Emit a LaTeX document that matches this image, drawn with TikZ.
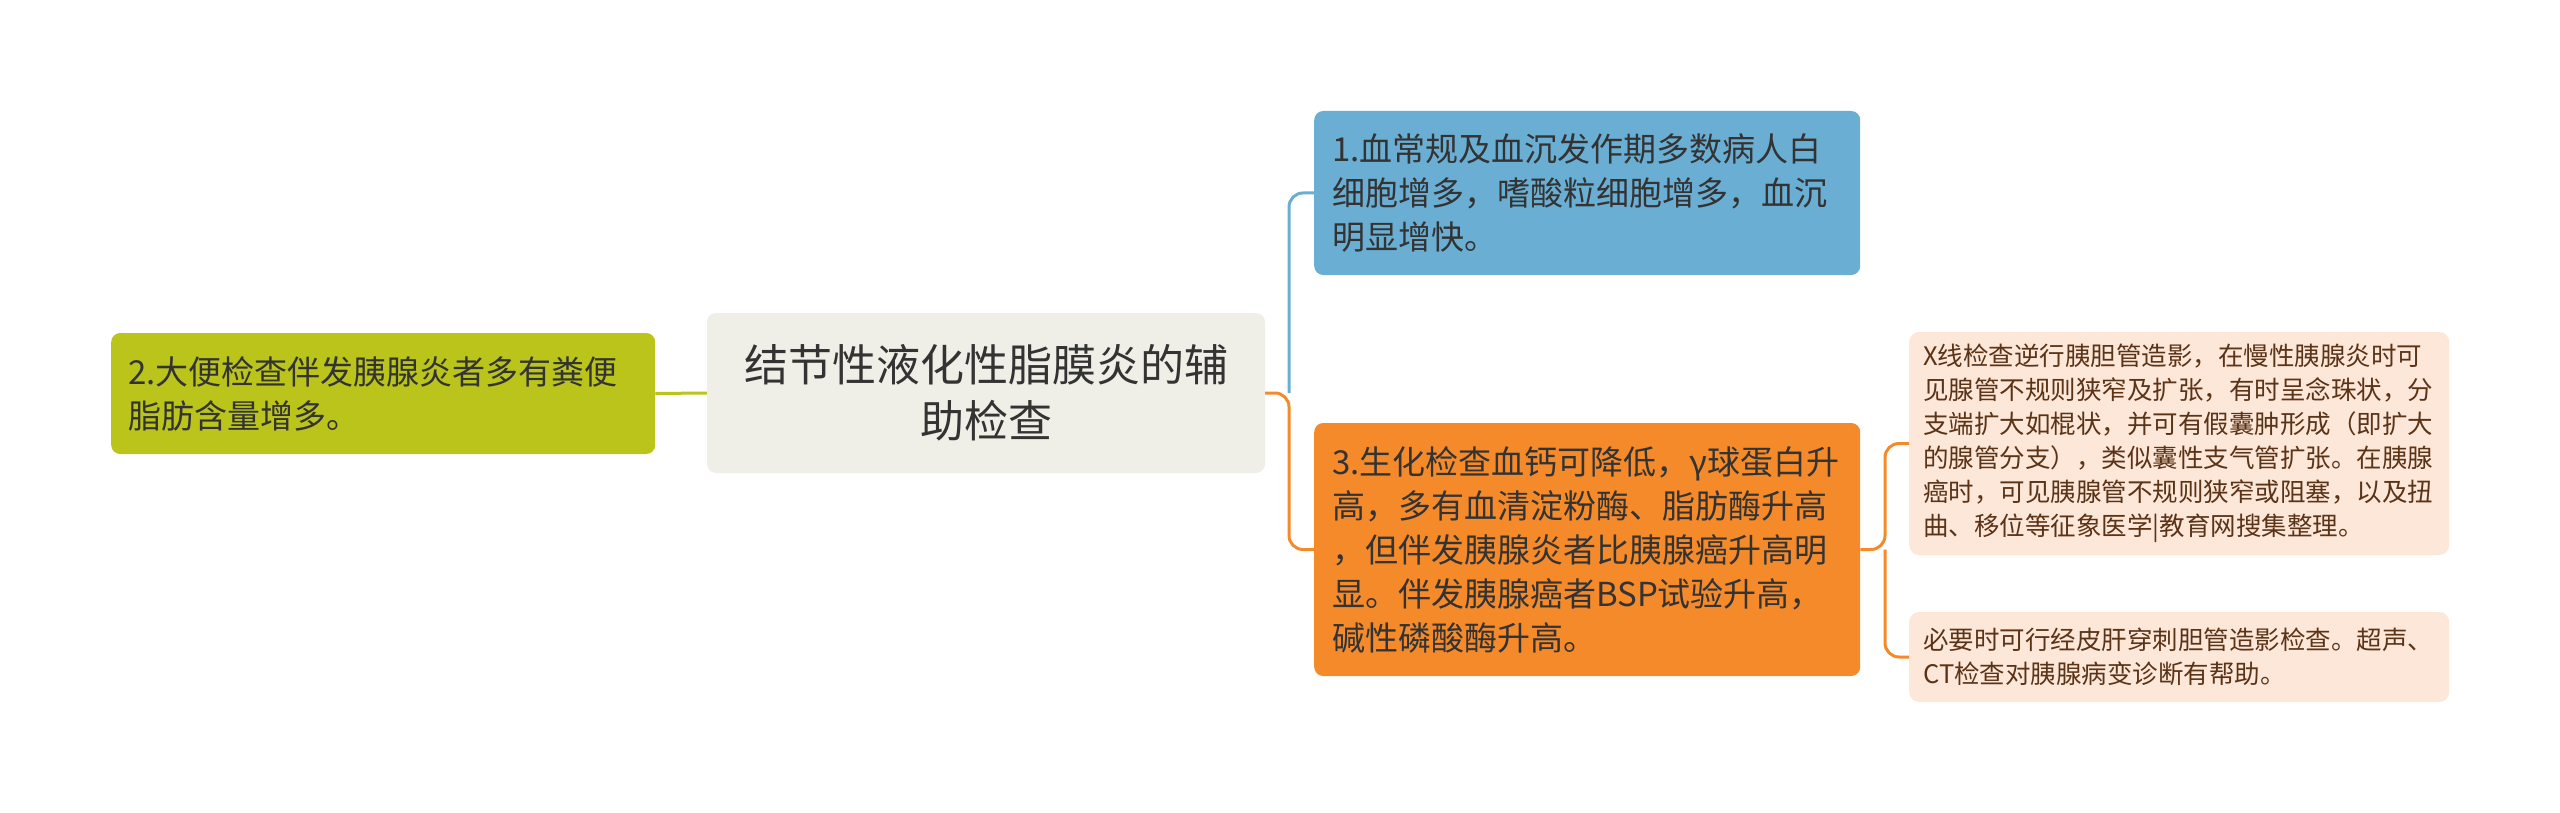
\documentclass[tikz,border=0pt]{standalone}
\usepackage{fontspec}
\setmainfont{Noto Sans CJK SC}
\definecolor{cblue}{HTML}{6AAFD3}
\definecolor{corange}{HTML}{F58A2B}
\definecolor{cgreen}{HTML}{BAC41A}
\definecolor{ccenter}{HTML}{EFEFE7}
\definecolor{cpeach}{HTML}{FDE7D8}
\definecolor{ctext}{HTML}{333333}
\definecolor{cbrown}{HTML}{5B3418}
\tikzset{
  mainbox/.style={rounded corners=9pt, inner xsep=18pt, inner ysep=0pt, align=left,
    text=ctext, font=\fontsize{33}{44}\selectfont, anchor=west},
  leafbox/.style={rounded corners=10pt, fill=cpeach, inner xsep=14pt, inner ysep=0pt, align=left,
    text=cbrown, font=\fontsize{25.5}{34}\selectfont, anchor=west, minimum width=540pt, text width=512pt},
  link/.style={line width=3pt, rounded corners=14pt}
}
\begin{document}
\begin{tikzpicture}[x=1pt,y=-1pt]
\useasboundingbox (0,0) rectangle (2560,813);
% centre
\node[rounded corners=9pt, fill=ccenter, minimum width=558pt, minimum height=160pt, align=center,
  text=ctext, font=\fontsize{44}{56}\selectfont, inner sep=0pt] (root) at (986,393)
  {结节性液化性脂膜炎的辅\\助检查};
% green
\node[mainbox, fill=cgreen, minimum width=544pt, minimum height=121pt, text width=510pt, inner xsep=16pt] (n2) at (111,393.5)
  {2.大便检查伴发胰腺炎者多有粪便\\脂肪含量增多。};
% blue
\node[mainbox, fill=cblue, minimum width=546pt, minimum height=164pt, text width=510pt] (n1) at (1314,193)
  {1.血常规及血沉发作期多数病人白\\细胞增多，嗜酸粒细胞增多，血沉\\明显增快。};
% orange
\node[mainbox, fill=corange, minimum width=546pt, minimum height=253pt, text width=510pt] (n3) at (1314,549.5)
  {3.生化检查血钙可降低，γ球蛋白升\\高，多有血清淀粉酶、脂肪酶升高\\，但伴发胰腺炎者比胰腺癌升高明\\显。伴发胰腺癌者BSP试验升高，\\碱性磷酸酶升高。};
% leaves
\node[leafbox, minimum height=223pt] (l1) at (1909,443.5)
  {X线检查逆行胰胆管造影，在慢性胰腺炎时可\\见腺管不规则狭窄及扩张，有时呈念珠状，分\\支端扩大如棍状，并可有假囊肿形成（即扩大\\的腺管分支），类似囊性支气管扩张。在胰腺\\癌时，可见胰腺管不规则狭窄或阻塞，以及扭\\曲、移位等征象医学|教育网搜集整理。};
\node[leafbox, minimum height=90pt] (l2) at (1909,657)
  {必要时可行经皮肝穿刺胆管造影检查。超声、\\CT检查对胰腺病变诊断有帮助。};
% connectors
\coordinate (j1) at (1289,393);
\coordinate (j2) at (1885,549.5);
\draw[link, cgreen] (root.west) -- (n2.east);
\draw[link, cblue] (j1) |- (n1.west);
\draw[link, corange] (root.east) -- (j1) |- (n3.west);
\draw[link, corange] (n3.east) -- (j2) |- (l1.west);
\draw[link, corange] (j2) |- (l2.west);
\end{tikzpicture}
\end{document}
